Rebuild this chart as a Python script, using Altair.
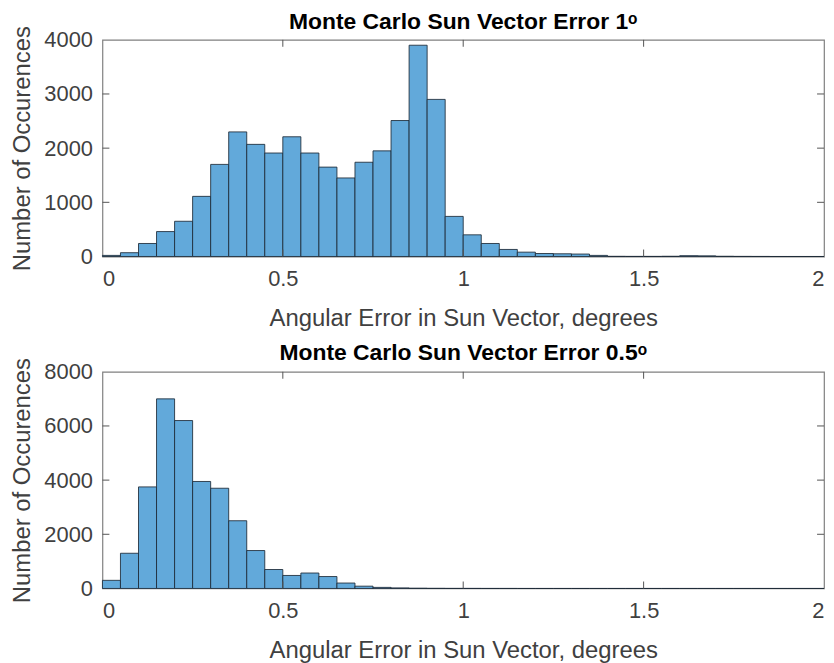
import altair as alt
import pandas as pd

# bin edges: 0 to 2 in steps of 0.05 (40 bins)
bin_width = 0.05
top_counts = [20, 70, 240, 460, 650, 1110, 1700, 2300, 2070, 1910,
              2210, 1910, 1650, 1450, 1740, 1950, 2510, 3900, 2900, 740,
              400, 240, 130, 80, 55, 50, 45, 20, 3, 2,
              2, 4, 15, 12, 4, 2, 1, 0, 0, 0]
bottom_counts = [300, 1300, 3750, 7000, 6200, 3950, 3700, 2500, 1400, 700,
                 480, 570, 440, 200, 85, 40, 20, 10, 5, 3,
                 2, 1, 1, 0, 0, 0, 0, 0, 0, 0,
                 0, 0, 0, 0, 0, 0, 0, 0, 0, 0]

x_ticks = [0, 0.5, 1, 1.5, 2]
top_y_ticks = [0, 1000, 2000, 3000, 4000]
bottom_y_ticks = [0, 2000, 4000, 6000, 8000]

titles = ["Monte Carlo Sun Vector Error 1\u1D52", "Monte Carlo Sun Vector Error 0.5\u1D52"]
x_title = "Angular Error in Sun Vector, degrees"
y_title = "Number of Occurences"

W, H = 726, 218
FONT = "Liberation Sans, Arial, Helvetica, sans-serif"
BAR = "#62A9DA"
TICK = "#555555"
TL = 7


def panel(counts, yticks, title):
    df = pd.DataFrame({
        "start": [i * bin_width for i in range(len(counts))],
        "end": [(i + 1) * bin_width for i in range(len(counts))],
        "count": counts,
    })
    xs = alt.Scale(domain=[0, 2], nice=False)
    ys = alt.Scale(domain=[0, yticks[-1]], nice=False)
    bars = alt.Chart(df).mark_bar(
        color=BAR, stroke="#1c2a36", strokeWidth=1, strokeOpacity=0.85
    ).encode(
        x=alt.X("start:Q", scale=xs, axis=alt.Axis(
            values=x_ticks, format="~g", title=x_title, ticks=False, domain=False,
            grid=False, labelPadding=12, titlePadding=17)),
        x2="end:Q",
        y=alt.Y("count:Q", scale=ys, axis=alt.Axis(
            values=yticks, format="d", title=y_title, ticks=False,
            domain=False, grid=False, labelPadding=10, titlePadding=9)),
        y2=alt.datum(0),
    )
    xt = pd.DataFrame({"v": x_ticks[1:-1]})
    yt = pd.DataFrame({"v": yticks[1:-1]})
    xb = alt.Chart(xt).mark_rule(color=TICK, strokeWidth=1).encode(
        x=alt.X("v:Q", scale=xs), y=alt.value(H), y2=alt.value(H - TL))
    xtop = alt.Chart(xt).mark_rule(color=TICK, strokeWidth=1).encode(
        x=alt.X("v:Q", scale=xs), y=alt.value(0), y2=alt.value(TL))
    yl = alt.Chart(yt).mark_rule(color=TICK, strokeWidth=1).encode(
        y=alt.Y("v:Q", scale=ys), x=alt.value(0), x2=alt.value(TL))
    yr = alt.Chart(yt).mark_rule(color=TICK, strokeWidth=1).encode(
        y=alt.Y("v:Q", scale=ys), x=alt.value(W), x2=alt.value(W - TL))
    return alt.layer(bars, xb, xtop, yl, yr).properties(
        width=W, height=H,
        title=alt.TitleParams(title, fontSize=23, fontWeight="bold",
                              color="#000000", font=FONT, offset=-8,
                              frame="group"),
    )


chart = alt.vconcat(
    panel(top_counts, top_y_ticks, titles[0]),
    panel(bottom_counts, bottom_y_ticks, titles[1]),
    spacing=11,
).properties(
    padding={"left": 2, "top": 0, "right": 0, "bottom": 0},
    background="white",
).configure_view(
    stroke="#808080", strokeWidth=1.2
).configure_axis(
    labelFont=FONT, titleFont=FONT, labelFontSize=22, titleFontSize=24,
    labelColor="#404040", titleColor="#404040", titleFontWeight="normal",
)

chart.save("out.html", embed_options={"renderer": "svg", "actions": False})
